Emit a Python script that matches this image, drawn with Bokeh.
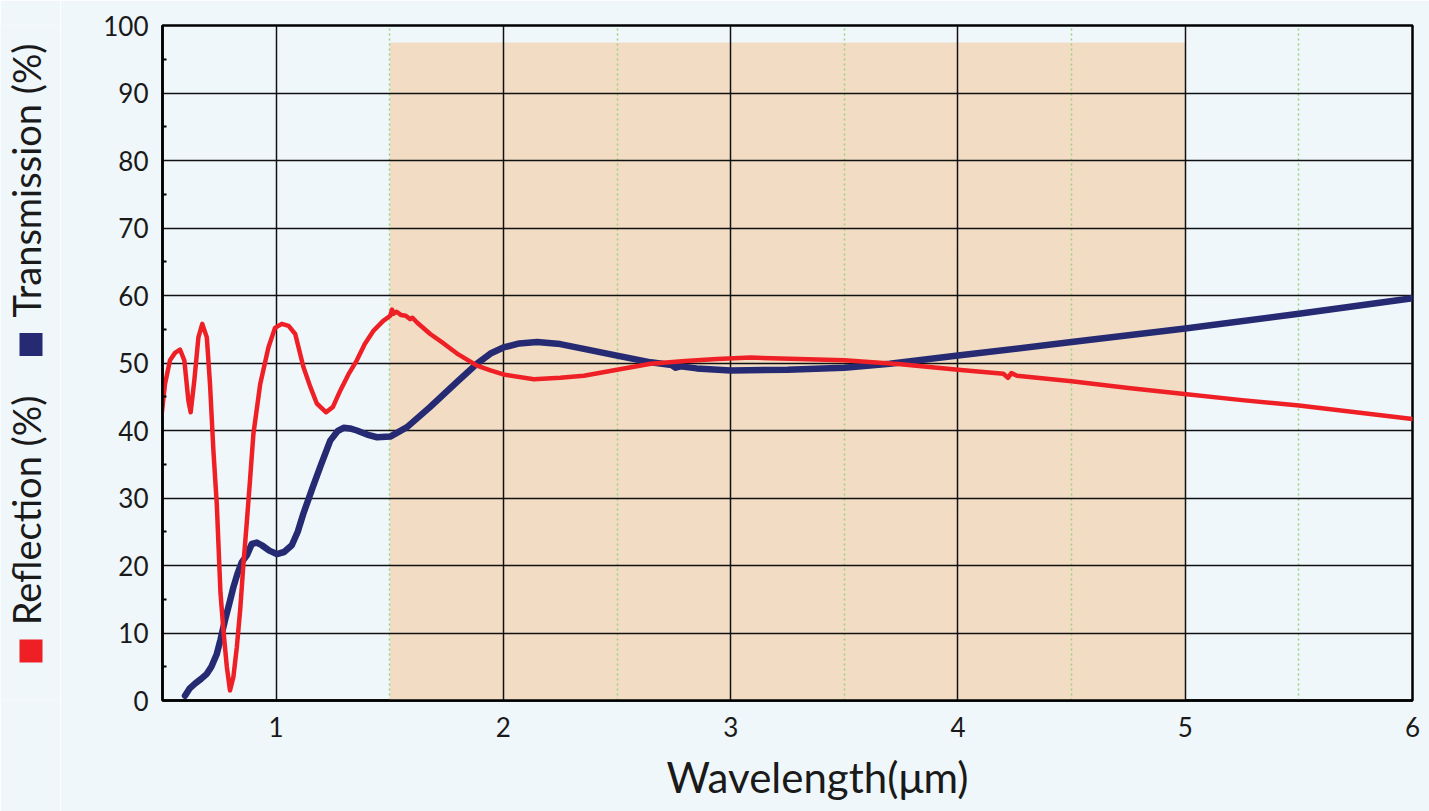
import math
from bokeh.plotting import figure
from bokeh.layouts import row
from bokeh.models import FixedTicker, Range1d, Title
from bokeh.core.properties import value
from bokeh.embed import file_html
from bokeh.resources import INLINE

# ---- data ----
refl_x = [0.495, 0.511, 0.533, 0.555, 0.577, 0.596, 0.614, 0.624, 0.640, 0.658, 0.675,
          0.695, 0.709, 0.724, 0.739, 0.755, 0.768, 0.783, 0.797, 0.812, 0.827, 0.842,
          0.856, 0.870, 0.885, 0.900, 0.930, 0.966, 0.995, 1.025, 1.055, 1.084, 1.120,
          1.150, 1.179, 1.220, 1.250, 1.282, 1.318, 1.355, 1.390, 1.429, 1.470, 1.502,
          1.510, 1.517, 1.530, 1.550, 1.570, 1.590, 1.600, 1.620, 1.678, 1.737, 1.796,
          1.884, 1.943, 2.000, 2.134, 2.250, 2.354, 2.500, 2.648, 2.800, 2.940, 3.088,
          3.300, 3.500, 3.749, 4.000, 4.200, 4.220, 4.235, 4.260, 4.500, 4.750, 4.996,
          5.250, 5.500, 5.750, 6.000]
refl_y = [42.0, 46.9, 50.4, 51.5, 52.0, 50.4, 44.4, 42.7, 47.4, 53.8, 55.8,
          53.8, 46.9, 37.0, 29.0, 16.0, 10.4, 5.0, 1.5, 3.5, 7.9, 13.5,
          20.2, 26.0, 32.6, 39.5, 46.9, 52.3, 55.2, 55.8, 55.5, 54.3, 49.4,
          46.5, 44.0, 42.7, 43.5, 45.9, 48.3, 50.4, 52.8, 54.8, 56.2, 57.0,
          57.9, 57.3, 57.6, 57.1, 57.0, 56.5, 56.7, 56.0, 54.3, 52.9, 51.4,
          49.6, 48.9, 48.3, 47.6, 47.8, 48.1, 49.0, 49.9, 50.3, 50.6, 50.8,
          50.6, 50.4, 49.8, 49.0, 48.4, 47.8, 48.5, 48.1, 47.3, 46.3, 45.4,
          44.5, 43.7, 42.7, 41.7]

trans_x = [0.599, 0.620, 0.643, 0.670, 0.695, 0.715, 0.739, 0.755, 0.775, 0.795, 0.812,
           0.830, 0.849, 0.871, 0.893, 0.915, 0.937, 0.970, 1.003, 1.035, 1.069, 1.095,
           1.120, 1.160, 1.194, 1.238, 1.270, 1.297, 1.325, 1.355, 1.400, 1.444, 1.502,
           1.576, 1.678, 1.796, 1.884, 1.943, 2.000, 2.070, 2.148, 2.250, 2.354, 2.500,
           2.648, 2.740, 2.758, 2.780, 2.850, 3.000, 3.250, 3.500, 3.700, 4.000, 4.500,
           5.000, 5.500, 6.000]
trans_y = [0.7, 1.8, 2.5, 3.2, 3.95, 5.0, 6.9, 9.0, 11.9, 14.5, 16.8,
           18.8, 20.5, 21.5, 23.2, 23.4, 23.0, 22.2, 21.7, 22.0, 23.0, 25.0,
           27.7, 31.5, 34.6, 38.5, 39.9, 40.4, 40.3, 40.0, 39.4, 39.0, 39.1,
           40.5, 43.5, 47.2, 49.9, 51.4, 52.3, 52.9, 53.1, 52.8, 52.1, 51.1,
           50.1, 49.7, 49.3, 49.5, 49.2, 48.9, 49.0, 49.3, 49.9, 51.1, 53.1,
           55.1, 57.3, 59.6]

band_left = [1.5]
band_right = [5.0]
band_bottom = [0]
band_top = [97.5]

x_ticks = [1, 2, 3, 4, 5, 6]
x_minor = [1.5, 2.5, 3.5, 4.5, 5.5]
y_ticks = list(range(0, 101, 10))
y_minor = list(range(5, 100, 10))

legend_labels = ["Reflection (%)", "Transmission (%)"]
x_title = "Wavelength(μm)"

BG = "#eff7fb"
RED = "#ee2026"
BLUE = "#252a72"
FONT = "Lato"
TXT = "#1a1a1a"

W, H = 1429, 811
STRIP = 60
TOP, BOTTOM = 25, 111   # frame borders of the main chart

# ---- left strip carrying the two-part y title (coordinates: y = H - pixel row) ----
s = figure(width=STRIP, height=H, output_backend="svg", toolbar_location=None,
           x_range=Range1d(0, STRIP), y_range=Range1d(BOTTOM, H - TOP),
           x_axis_location=None, y_axis_location=None,
           min_border_left=0, min_border_right=0,
           min_border_top=TOP, min_border_bottom=BOTTOM)
s.background_fill_color = BG
s.border_fill_color = BG
s.outline_line_color = None
s.xgrid.visible = False
s.ygrid.visible = False
s.text(x=[25.5, 25.5], y=[H - 510, H - 180], text=legend_labels, angle=math.pi / 2,
       text_font=value(FONT), text_font_size="38px", text_color=TXT,
       text_align="center", text_baseline="middle")
s.rect(x=[30.5, 30.5], y=[H - 650.5, H - 344], width=23, height=23,
       fill_color=[RED, BLUE], line_color=None)

# ---- main chart ----
p = figure(width=W - STRIP, height=H, output_backend="svg", toolbar_location=None,
           x_range=Range1d(0.5, 6.0), y_range=Range1d(0, 100),
           min_border_left=162 - STRIP, min_border_right=17, min_border_top=TOP,
           min_border_bottom=BOTTOM)
p.background_fill_color = BG
p.border_fill_color = BG
p.outline_line_color = "black"
p.outline_line_width = 2.5

p.quad(left=band_left, right=band_right, bottom=band_bottom, top=band_top,
       fill_color="#f2ddc4", line_color=None, level="image")

p.xgrid.ticker = FixedTicker(ticks=x_ticks, minor_ticks=x_minor)
p.xgrid.grid_line_color = "#111111"
p.xgrid.grid_line_width = 1.5
p.xgrid.minor_grid_line_color = "#98d27a"
p.xgrid.minor_grid_line_width = 1.5
p.xgrid.minor_grid_line_dash = "2 3"
p.ygrid.ticker = FixedTicker(ticks=y_ticks, minor_ticks=y_minor)
p.ygrid.grid_line_color = "#111111"
p.ygrid.grid_line_width = 1.5

xa = p.xaxis[0]
xa.ticker = FixedTicker(ticks=x_ticks, minor_ticks=x_minor)
xa.axis_line_color = "black"
xa.axis_line_width = 2.5
xa.major_tick_in = 0
xa.major_tick_out = 0
xa.minor_tick_in = 0
xa.minor_tick_out = 0
xa.major_label_text_font = FONT
xa.major_label_text_font_size = "26px"
xa.major_label_text_color = TXT
xa.major_label_standoff = 16

ya = p.yaxis[0]
ya.ticker = FixedTicker(ticks=y_ticks, minor_ticks=y_minor)
ya.axis_line_color = "black"
ya.axis_line_width = 2.5
ya.major_tick_in = 0
ya.major_tick_out = 0
ya.minor_tick_in = 4
ya.minor_tick_out = 0
ya.minor_tick_line_color = "black"
ya.minor_tick_line_width = 2
ya.major_label_text_font = FONT
ya.major_label_text_font_size = "26px"
ya.major_label_text_color = TXT
ya.major_label_standoff = 14

p.line(trans_x, trans_y, line_color=BLUE, line_width=6.5, line_cap="round", line_join="round")
p.line(refl_x, refl_y, line_color=RED, line_width=4.5, line_cap="round", line_join="round")

p.add_layout(Title(text=x_title, align="left", offset=666 - 162, standoff=20,
                   vertical_align="bottom",
                   text_font=FONT, text_font_size="42px", text_color=TXT,
                   text_font_style="normal"), "below")

open("out.html", "w").write(file_html(row(s, p), INLINE))
